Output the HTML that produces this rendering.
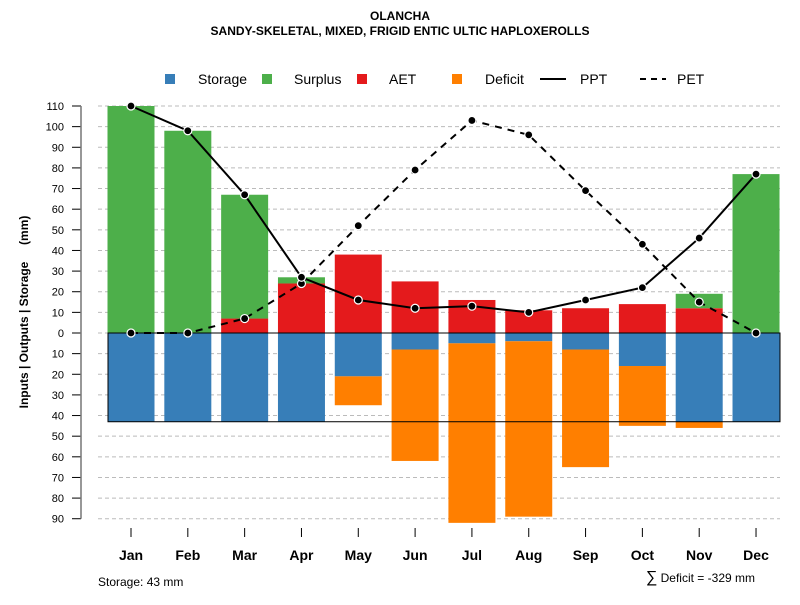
<!DOCTYPE html>
<html><head><meta charset="utf-8"><style>
body{margin:0;background:#fff;font-family:"Liberation Sans",sans-serif}
</style></head><body>
<svg id="chart" width="800" height="600" xmlns="http://www.w3.org/2000/svg" font-family="Liberation Sans, sans-serif">
<text x="400" y="20" text-anchor="middle" font-size="12" font-weight="bold">OLANCHA</text>
<text x="400" y="35" text-anchor="middle" font-size="12" font-weight="bold">SANDY-SKELETAL, MIXED, FRIGID ENTIC ULTIC HAPLOXEROLLS</text>
<g id="legend" font-size="14">
<rect x="165" y="74" width="10" height="10" fill="#377EB8"/>
<text x="198" y="84">Storage</text>
<rect x="262" y="74" width="10" height="10" fill="#4DAF4A"/>
<text x="294" y="84">Surplus</text>
<rect x="357" y="74" width="10" height="10" fill="#E41A1C"/>
<text x="389" y="84">AET</text>
<rect x="452" y="74" width="10" height="10" fill="#FF7F00"/>
<text x="485" y="84">Deficit</text>
<line x1="540" y1="79" x2="566" y2="79" stroke="#000" stroke-width="2"/>
<text x="580" y="84">PPT</text>
<line x1="640" y1="79" x2="666" y2="79" stroke="#000" stroke-width="2" stroke-dasharray="6,5"/>
<text x="677" y="84">PET</text>
</g>
<g id="grid"></g><g id="bars"></g><g id="lines"></g><g id="axes"></g>
<text style="white-space:pre" transform="translate(28,312) rotate(-90)" text-anchor="middle" font-size="12" font-weight="bold">Inputs | Outputs | Storage     (mm)</text>
<text x="98" y="586" font-size="12">Storage: 43 mm</text>
<text x="755" y="582" text-anchor="end" font-size="12"><tspan font-size="16">∑</tspan> Deficit = -329 mm</text>
</svg>
<script>
const months=["Jan","Feb","Mar","Apr","May","Jun","Jul","Aug","Sep","Oct","Nov","Dec"];
const storage=[43,43,43,43,21,8,5,4,8,16,43,43];
const deficit=[0,0,0,0,14,54,87,85,57,29,3,0];
const aet=[0,0,7,24,38,25,16,11,12,14,12,0];
const surplus=[110,98,60,3,0,0,0,0,0,0,7,77];
const ppt=[110,98,67,27,16,12,13,10,16,22,46,77];
const pet=[0,0,7,24,52,79,103,96,69,43,15,0];
const yTicks=[110,100,90,80,70,60,50,40,30,20,10,0,-10,-20,-30,-40,-50,-60,-70,-80,-90];
const awc=43;
const NS="http://www.w3.org/2000/svg";
const y=v=>333-v*(227/110);
const x=i=>131+i*56.82;
const bw=47;
function mk(parent,tag,attrs){const e=document.createElementNS(NS,tag);for(const k in attrs)e.setAttribute(k,attrs[k]);document.getElementById(parent).appendChild(e);return e;}
yTicks.forEach(t=>{
  const g=mk('grid','line',{x1:98,x2:780,y1:y(t),y2:y(t),stroke:'#bbb','stroke-dasharray':'4,3'});
  
  
  const tk=mk('axes','line',{x1:72,x2:81,y1:y(t),y2:y(t),stroke:'#000'});
  
  
  const lb=mk('axes','text',{x:64,y:y(t)+4,'text-anchor':'end','font-size':11});
  lb.textContent=Math.abs(t);
  
  
});
const ax=mk('axes','line',{x1:81,x2:81,y1:y(110),y2:y(-90),stroke:'#777','stroke-width':1.5});


months.forEach((m,i)=>{
  const cx=x(i),l=cx-bw/2;
  function bar(v0,v1,c,n){if(v0===v1)return;const r=mk('bars','rect',{x:l,width:bw,y:Math.min(y(v0),y(v1)),height:Math.abs(y(v0)-y(v1)),fill:c});
    
    }
  bar(0,-storage[i],'#377EB8','bar-storage-'+m.toLowerCase());
  bar(-storage[i],-storage[i]-deficit[i],'#FF7F00','bar-deficit-'+m.toLowerCase());
  bar(0,aet[i],'#E41A1C','bar-aet-'+m.toLowerCase());
  bar(aet[i],aet[i]+surplus[i],'#4DAF4A','bar-surplus-'+m.toLowerCase());
  const t=mk('axes','line',{x1:cx,x2:cx,y1:528,y2:537,stroke:'#000'});
  
  
  const lb=mk('axes','text',{x:cx,y:560,'text-anchor':'middle','font-size':14,'font-weight':'bold'});
  lb.textContent=m;
  
  
});
const box=mk('bars','rect',{x:108,y:y(0),width:672,height:y(-awc)-y(0),fill:'none',stroke:'#000'});


function series(arr,dash,n){
  const p=mk('lines','polyline',{points:arr.map((v,i)=>x(i)+','+y(v)).join(' '),fill:'none',stroke:'#000','stroke-width':2,'stroke-dasharray':dash});
  
  
  arr.forEach((v,i)=>{const c=mk('lines','circle',{cx:x(i),cy:y(v),r:4,fill:'#000',stroke:'#fff','stroke-width':1.2});
    
    });
}
series(pet,'7,6','pet');
series(ppt,'none','ppt');
</script>
</body></html>
